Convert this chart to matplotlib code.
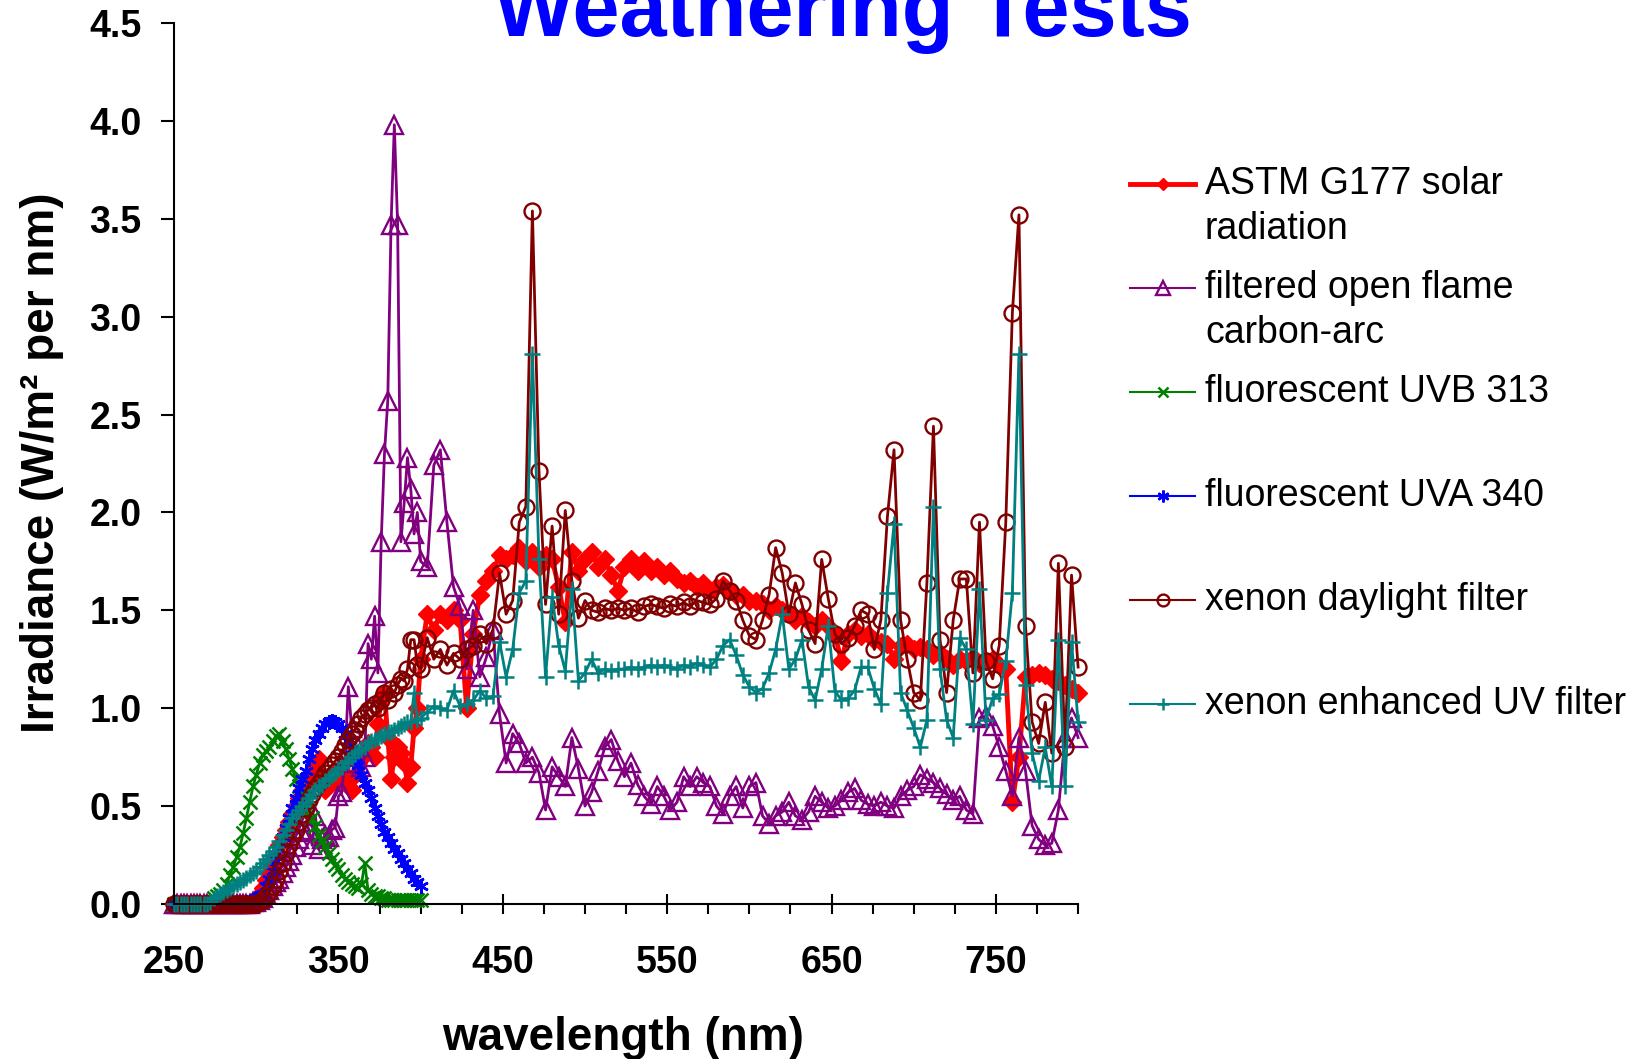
import numpy as np
import matplotlib
matplotlib.use("Agg")
import matplotlib.pyplot as plt
from matplotlib.ticker import MultipleLocator, FixedLocator
from matplotlib.lines import Line2D

plt.rcParams['font.family'] = ['Liberation Sans', 'DejaVu Sans']

# wavelength sampling (nm)
uv_wl = np.arange(250, 400, 2)          # 250..398
vis_wl = np.arange(400, 801, 4)         # 400..800
wl_full = np.concatenate([uv_wl, vis_wl])
wl_fluor = np.arange(250, 401, 2)       # 250..400

# ASTM G177 solar radiation
astm_uv = [0, 0, 0, 0, 0, 0, 0, 0, 0, 0,
           0, 0, 0, 0, 0, 0, 0, 0, 0, 0,
           0, 0, 0, 0, 0.01, 0.02, 0.05, 0.08, 0.12, 0.16,
           0.20, 0.25, 0.30, 0.34, 0.38, 0.42, 0.46, 0.50, 0.54, 0.58,
           0.62, 0.65, 0.68, 0.71, 0.74, 0.66, 0.58, 0.62, 0.67, 0.63,
           0.64, 0.68, 0.66, 0.60, 0.58, 0.66, 0.72, 0.74, 0.78, 0.82,
           0.80, 0.75, 0.92, 1.05, 1.08, 0.85, 0.64, 0.75, 0.80, 0.77,
           0.72, 0.62, 0.70, 0.90, 1.00]
astm_vis = [1.25, 1.48, 1.40, 1.48, 1.45, 1.50, 1.45, 1.00, 1.38, 1.58,
            1.65, 1.70, 1.78, 1.76, 1.78, 1.82, 1.75, 1.80, 1.72, 1.78,
            1.76, 1.62, 1.44, 1.80, 1.70, 1.76, 1.80, 1.72, 1.76, 1.68,
            1.60, 1.72, 1.76, 1.70, 1.75, 1.70, 1.72, 1.68, 1.70, 1.66,
            1.64, 1.65, 1.62, 1.64, 1.60, 1.62, 1.63, 1.60, 1.58, 1.58,
            1.55, 1.55, 1.53, 1.50, 1.52, 1.50, 1.48, 1.45, 1.47, 1.44,
            1.42, 1.45, 1.42, 1.38, 1.24, 1.38, 1.40, 1.37, 1.38, 1.35,
            1.34, 1.33, 1.25, 1.32, 1.33, 1.30, 1.31, 1.30, 1.27, 1.28,
            1.25, 1.22, 1.25, 1.24, 1.26, 1.23, 1.24, 1.25, 1.22, 1.20,
            0.52, 0.75, 1.16, 1.17, 1.18, 1.17, 1.15, 1.14, 1.12, 1.10,
            1.08]

# filtered open flame carbon-arc
carbon_uv = [0, 0, 0, 0, 0, 0, 0, 0, 0, 0,
             0, 0, 0, 0, 0, 0, 0, 0, 0, 0,
             0, 0, 0, 0, 0.01, 0.01, 0.02, 0.03, 0.05, 0.07,
             0.09, 0.11, 0.13, 0.16, 0.19, 0.22, 0.25, 0.29, 0.33, 0.37,
             0.42, 0.38, 0.30, 0.45, 0.28, 0.33, 0.35, 0.34, 0.38, 0.39,
             0.55, 0.57, 0.75, 1.11, 0.90, 0.72, 0.80, 0.70, 0.75, 1.33,
             1.25, 1.47, 1.18, 1.85, 2.30, 2.57, 3.47, 3.98, 3.47, 1.85,
             2.05, 2.28, 2.12, 1.89, 2.00]
carbon_vis = [1.75, 1.72, 2.24, 2.32, 1.95, 1.62, 1.52, 1.20, 1.50, 1.16,
              1.26, 1.40, 0.97, 0.72, 0.87, 0.82, 0.72, 0.75, 0.67, 0.48,
              0.70, 0.65, 0.60, 0.85, 0.69, 0.50, 0.57, 0.68, 0.80, 0.84,
              0.73, 0.65, 0.72, 0.61, 0.55, 0.51, 0.60, 0.55, 0.48, 0.52,
              0.65, 0.60, 0.65, 0.62, 0.60, 0.50, 0.46, 0.55, 0.60, 0.49,
              0.60, 0.62, 0.45, 0.41, 0.45, 0.47, 0.52, 0.45, 0.43, 0.47,
              0.55, 0.52, 0.49, 0.50, 0.53, 0.57, 0.59, 0.53, 0.51, 0.50,
              0.52, 0.50, 0.49, 0.55, 0.58, 0.60, 0.66, 0.64, 0.62, 0.59,
              0.56, 0.53, 0.55, 0.48, 0.46, 0.95, 0.96, 0.91, 0.80, 0.68,
              0.55, 0.85, 0.68, 0.40, 0.33, 0.30, 0.31, 0.48, 0.85, 0.95,
              0.85]

# fluorescent UVB 313
uvb313 = [0, 0, 0, 0, 0, 0, 0, 0, 0, 0,
          0, 0.01, 0.03, 0.04, 0.05, 0.07, 0.10, 0.15, 0.19, 0.24,
          0.29, 0.36, 0.44, 0.52, 0.60, 0.66, 0.72, 0.76, 0.78, 0.80,
          0.83, 0.86, 0.87, 0.83, 0.79, 0.74, 0.69, 0.64, 0.60, 0.57,
          0.53, 0.48, 0.44, 0.40, 0.35, 0.32, 0.29, 0.26, 0.23, 0.20,
          0.18, 0.15, 0.13, 0.11, 0.10, 0.09, 0.08, 0.10, 0.21, 0.07,
          0.05, 0.04, 0.04, 0.03, 0.03, 0.02, 0.02, 0.02, 0.02, 0.02,
          0.02, 0.02, 0.02, 0.02, 0.02, 0.02]

# fluorescent UVA 340
uva340 = [0, 0, 0, 0, 0, 0, 0, 0, 0, 0,
          0, 0, 0, 0, 0, 0, 0, 0, 0, 0,
          0, 0.005, 0.01, 0.015, 0.02, 0.03, 0.04, 0.05, 0.09, 0.13,
          0.17, 0.22, 0.28, 0.34, 0.39, 0.44, 0.49, 0.54, 0.59, 0.64,
          0.68, 0.74, 0.79, 0.84, 0.87, 0.90, 0.92, 0.93, 0.935, 0.93,
          0.92, 0.90, 0.87, 0.83, 0.79, 0.75, 0.71, 0.66, 0.62, 0.58,
          0.54, 0.49, 0.45, 0.41, 0.37, 0.34, 0.31, 0.28, 0.26, 0.23,
          0.21, 0.18, 0.16, 0.13, 0.11, 0.09]

# xenon daylight filter
daylight_uv = [0, 0, 0, 0, 0, 0, 0, 0, 0, 0,
               0, 0, 0, 0, 0, 0, 0, 0, 0, 0,
               0, 0, 0, 0, 0, 0, 0.01, 0.02, 0.04, 0.055,
               0.09, 0.13, 0.17, 0.21, 0.26, 0.30, 0.34, 0.38, 0.42, 0.46,
               0.49, 0.53, 0.56, 0.59, 0.62, 0.645, 0.67, 0.69, 0.71, 0.73,
               0.75, 0.78, 0.81, 0.84, 0.87, 0.89, 0.92, 0.95, 0.97, 0.99,
               1.00, 1.02, 1.00, 1.04, 1.08, 1.04, 1.10, 1.08, 1.12, 1.15,
               1.14, 1.20, 1.35, 1.35, 1.22]
daylight_vis = [1.20, 1.36, 1.25, 1.30, 1.22, 1.28, 1.25, 1.30, 1.32, 1.38,
                1.33, 1.40, 1.69, 1.48, 1.55, 1.95, 2.03, 3.54, 2.21, 1.53,
                1.93, 1.48, 2.01, 1.65, 1.46, 1.55, 1.50, 1.49, 1.51, 1.50,
                1.51, 1.50, 1.51, 1.49, 1.52, 1.53, 1.52, 1.51, 1.53, 1.52,
                1.54, 1.52, 1.55, 1.54, 1.53, 1.56, 1.65, 1.60, 1.55, 1.45,
                1.37, 1.35, 1.45, 1.58, 1.82, 1.69, 1.48, 1.64, 1.53, 1.40,
                1.33, 1.76, 1.56, 1.38, 1.33, 1.36, 1.42, 1.50, 1.48, 1.30,
                1.45, 1.98, 2.32, 1.45, 1.25, 1.08, 1.04, 1.64, 2.44, 1.35,
                1.08, 1.45, 1.66, 1.66, 1.18, 1.95, 1.24, 1.15, 1.32, 1.95,
                3.02, 3.52, 1.42, 0.93, 0.82, 1.03, 0.77, 1.74, 0.80, 1.68,
                1.21]

# xenon enhanced UV filter
enhanced_uv = [0, 0, 0, 0, 0, 0, 0, 0, 0, 0,
               0, 0.01, 0.03, 0.04, 0.05, 0.06, 0.07, 0.08, 0.09, 0.10,
               0.11, 0.12, 0.135, 0.15, 0.16, 0.17, 0.19, 0.21, 0.23, 0.25,
               0.27, 0.29, 0.32, 0.35, 0.38, 0.41, 0.44, 0.46, 0.48, 0.50,
               0.52, 0.54, 0.56, 0.58, 0.60, 0.61, 0.63, 0.645, 0.66, 0.67,
               0.69, 0.70, 0.72, 0.73, 0.75, 0.77, 0.78, 0.79, 0.80, 0.82,
               0.83, 0.84, 0.85, 0.86, 0.87, 0.88, 0.88, 0.89, 0.90, 0.91,
               0.92, 0.93, 0.93, 1.08, 0.94]
enhanced_vis = [0.95, 0.98, 1.01, 1.00, 0.99, 1.09, 1.01, 1.02, 1.04, 1.09,
                1.05, 1.06, 1.34, 1.16, 1.30, 1.59, 1.65, 2.81, 1.76, 1.16,
                1.57, 1.32, 1.19, 1.61, 1.14, 1.18, 1.25, 1.18, 1.20, 1.19,
                1.20, 1.20, 1.21, 1.20, 1.21, 1.22, 1.21, 1.22, 1.21, 1.20,
                1.22, 1.21, 1.23, 1.22, 1.21, 1.25, 1.32, 1.35, 1.27, 1.17,
                1.11, 1.08, 1.10, 1.18, 1.30, 1.48, 1.20, 1.25, 1.35, 1.11,
                1.04, 1.20, 1.42, 1.09, 1.04, 1.05, 1.09, 1.21, 1.21, 1.10,
                1.02, 1.59, 1.94, 1.08, 0.99, 0.90, 0.80, 0.94, 2.03, 1.20,
                0.94, 0.85, 1.36, 1.30, 0.92, 1.61, 0.94, 1.05, 1.07, 1.24,
                1.59, 2.81, 1.12, 0.77, 0.63, 0.80, 0.60, 1.35, 0.60, 1.34,
                0.93]

labels = ["ASTM G177 solar\nradiation",
          "filtered open flame\ncarbon-arc",
          "fluorescent UVB 313",
          "fluorescent UVA 340",
          "xenon daylight filter",
          "xenon enhanced UV filter"]

asterisk = (6, 2, 0)
styles = [
    dict(color="#FF0000", marker="D", ms=9, lw=3.5, mfc="#FF0000", mec="#FF0000"),
    dict(color="#800080", marker="^", ms=12.5, lw=2.0, mfc="none", mew=1.7),
    dict(color="#008000", marker="x", ms=9.5, lw=2.0, mew=1.8),
    dict(color="#0000FF", marker=asterisk, ms=10.5, lw=2.0, mew=1.8),
    dict(color="#800000", marker="o", ms=11.5, lw=2.0, mfc="none", mew=1.7),
    dict(color="#008080", marker="+", ms=12, lw=2.0, mew=1.8),
]
legend_ms = [6.5, 9.5, 7.5, 8.5, 8.5, 9]
legend_lw = [3.5, 1.5, 1.5, 1.5, 1.5, 1.5]

data = [
    (wl_full, astm_uv + astm_vis),
    (wl_full, carbon_uv + carbon_vis),
    (wl_fluor, uvb313),
    (wl_fluor, uva340),
    (wl_full, daylight_uv + daylight_vis),
    (wl_full, enhanced_uv + enhanced_vis),
]

fig = plt.figure(figsize=(16.33, 10.59), dpi=100)
ax = fig.add_axes([0.1066, 0.1464, 0.5536, 0.8319])

for (x, y), st in zip(data, styles):
    ax.plot(x, y, clip_on=False, **st)

ax.set_xlim(250, 800)
ax.set_ylim(0, 4.5)
for s in ["top", "right"]:
    ax.spines[s].set_visible(False)
for s in ["left", "bottom"]:
    ax.spines[s].set_linewidth(1.5)

xt = [250, 350, 450, 550, 650, 750]
ax.xaxis.set_major_locator(FixedLocator(xt))
ax.xaxis.set_minor_locator(MultipleLocator(25))
ax.set_xticklabels([str(v) for v in xt], fontsize=27, fontweight="bold")
yt = np.arange(0, 4.51, 0.5)
ax.set_yticks(yt)
ax.set_yticklabels(["%.1f" % v for v in yt], fontsize=27, fontweight="bold")
ax.tick_params(axis="x", which="major", direction="inout", length=15, width=1.5, pad=22)
ax.tick_params(axis="x", which="minor", direction="out", length=7, width=1.5)
ax.tick_params(axis="y", which="major", direction="out", length=9.5, width=1.5, pad=14)

fig.text(0.516, 0.966, "Weathering Tests", color="#0000FF", fontsize=61,
         fontweight="bold", ha="center", va="baseline")
fig.text(0.3817, 0.0085, "wavelength (nm)", fontsize=33, fontweight="bold",
         ha="center", va="baseline")
fig.text(0.0257, 0.563, "Irradiance (W/m² per nm)", fontsize=33, fontweight="bold",
         rotation=90, ha="center", va="center")

# legend drawn by hand so the key sits on the first text line
top = 1 - 184 / 1059
step = 104 / 1059
line_gap = 45 / 1059
for i, (lab, st) in enumerate(zip(labels, styles)):
    yy = top - i * step
    key = dict(st)
    key["ms"] = legend_ms[i]
    key["lw"] = legend_lw[i]
    fig.add_artist(Line2D([0.692, 0.7318], [yy, yy], transform=fig.transFigure,
                          **{k: v for k, v in key.items() if k != "marker"}))
    fig.add_artist(Line2D([0.7119], [yy], transform=fig.transFigure, **key))
    for j, part in enumerate(lab.split("\n")):
        fig.text(0.7379, yy - j * line_gap, part, fontsize=27, ha="left", va="center")

fig.savefig("out.png", dpi=100)
